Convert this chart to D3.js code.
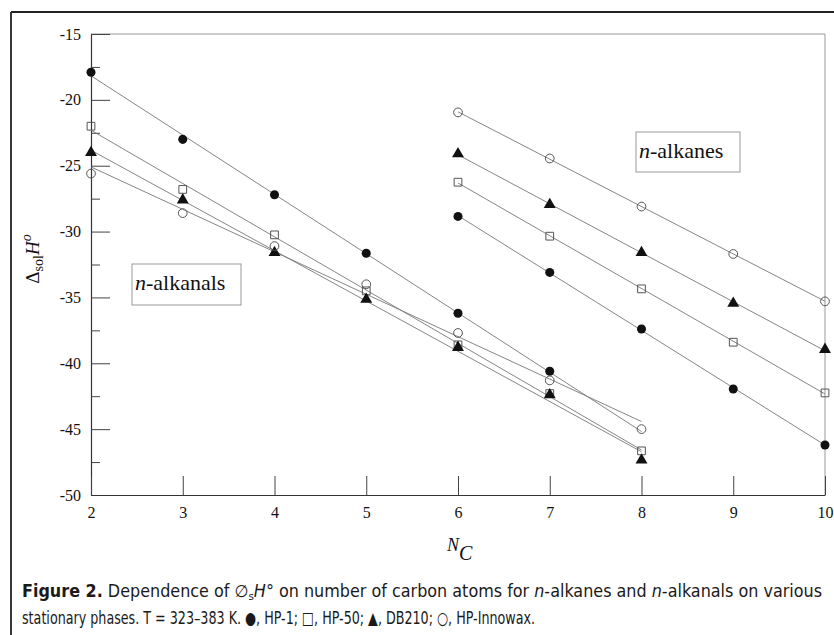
<!DOCTYPE html>
<html>
<head>
<meta charset="utf-8">
<script src="https://cdn.jsdelivr.net/npm/d3@7"></script>
<style>
  body { margin: 0; background: #fff; }
  svg { display: block; }
</style>
</head>
<body>
<script>
// carbon numbers
const alkanalCarbons = [2, 3, 4, 5, 6, 7, 8];
const alkaneCarbons = [6, 7, 8, 9, 10];

// n-alkanals, dsolH (kJ/mol)
const alkanalHP1 = [-17.9, -23.0, -27.2, -31.65, -36.2, -40.6, null];
const alkanalHP50 = [-22.0, -26.8, -30.25, -34.5, -38.6, -42.3, -46.65];
const alkanalDB210 = [-24.0, -27.6, -31.6, -35.15, -38.8, -42.4, -47.35];
const alkanalInnowax = [-25.6, -28.6, -31.1, -34.0, -37.7, -41.3, -45.0];

// n-alkanes
const alkaneHP1 = [-28.85, -33.1, -37.4, -41.95, -46.2];
const alkaneHP50 = [-26.25, -30.35, -34.35, -38.4, -42.25];
const alkaneDB210 = [-24.1, -27.95, -31.6, -35.45, -38.95];
const alkaneInnowax = [-20.95, -24.45, -28.1, -31.7, -35.3];

const xTicks = [2, 3, 4, 5, 6, 7, 8, 9, 10];
const yTicks = [-15, -20, -25, -30, -35, -40, -45, -50];
const yMinorTicks = [-17.5, -22.5, -27.5, -32.5, -37.5, -42.5, -47.5];

const W = 834, H = 635;
const svg = d3.select("body").append("svg").attr("width", W).attr("height", H);

// outer frame (left + top only visible)
svg.append("line").attr("x1", 11).attr("y1", 12).attr("x2", W).attr("y2", 12)
  .attr("stroke", "#222").attr("stroke-width", 1.8);
svg.append("line").attr("x1", 11).attr("y1", 12).attr("x2", 11).attr("y2", H)
  .attr("stroke", "#222").attr("stroke-width", 1.8);

const pLeft = 91, pRight = 825, pTop = 34, pBottom = 495;
const x = d3.scaleLinear().domain([2, 10]).range([pLeft, pRight]);
const y = d3.scaleLinear().domain([-50, -15]).range([pBottom, pTop]);

const serif = "'Liberation Serif', 'Times New Roman', serif";

// top and right frame of plot
svg.append("path")
  .attr("d", `M${pLeft},${pTop}H${pRight}V${pBottom}`)
  .attr("fill", "none").attr("stroke", "#999").attr("stroke-width", 1);

// axes
const gy = svg.append("g").attr("transform", `translate(${pLeft},0)`)
  .call(d3.axisLeft(y).tickValues(yTicks).tickSizeInner(-19).tickSizeOuter(0)
    .tickPadding(10).tickFormat(d => String(d)));
const yMinor = svg.append("g").attr("transform", `translate(${pLeft},0)`)
  .call(d3.axisLeft(y).tickValues(yMinorTicks).tickSizeInner(-9).tickSizeOuter(0)
    .tickFormat(""));
yMinor.select(".domain").remove();
const gx = svg.append("g").attr("transform", `translate(0,${pBottom})`)
  .call(d3.axisBottom(x).tickValues(xTicks).tickSizeInner(-19).tickSizeOuter(0)
    .tickPadding(12).tickFormat(d => String(d)));

[gx, gy].forEach(g => g.attr("font-family", serif).attr("font-size", 16));
svg.selectAll(".domain").attr("stroke", "#333").attr("stroke-width", 1.2);
svg.selectAll(".tick line").attr("stroke", "#444").attr("stroke-width", 1);
svg.selectAll(".tick text").style("font-family", serif).attr("fill", "#111");

// regression line for a series
function fit(xs, ys) {
  const pts = xs.map((c, i) => [c, ys[i]]).filter(p => p[1] != null);
  const mx = d3.mean(pts, p => p[0]), my = d3.mean(pts, p => p[1]);
  const b = d3.sum(pts, p => (p[0] - mx) * (p[1] - my)) / d3.sum(pts, p => (p[0] - mx) ** 2);
  return c => my + b * (c - mx);
}

const series = [
  { xs: alkanalCarbons, ys: alkanalHP1, mark: "dot" },
  { xs: alkanalCarbons, ys: alkanalHP50, mark: "square" },
  { xs: alkanalCarbons, ys: alkanalDB210, mark: "triangle" },
  { xs: alkanalCarbons, ys: alkanalInnowax, mark: "circle" },
  { xs: alkaneCarbons, ys: alkaneHP1, mark: "dot" },
  { xs: alkaneCarbons, ys: alkaneHP50, mark: "square" },
  { xs: alkaneCarbons, ys: alkaneDB210, mark: "triangle" },
  { xs: alkaneCarbons, ys: alkaneInnowax, mark: "circle" }
];

const plot = svg.append("g");
series.forEach(s => {
  const f = fit(s.xs, s.ys);
  const ends = d3.extent(s.xs);
  plot.append("line")
    .attr("x1", x(ends[0])).attr("y1", y(f(ends[0])))
    .attr("x2", x(ends[1])).attr("y2", y(f(ends[1])))
    .attr("stroke", "#777").attr("stroke-width", 0.9);
});

const sym = {
  dot: d3.symbol(d3.symbolCircle, 64),
  circle: d3.symbol(d3.symbolCircle, 60),
  square: d3.symbol(d3.symbolSquare, 60),
  triangle: d3.symbol(d3.symbolTriangle, 62)
};
series.forEach(s => {
  const pts = s.xs.map((c, i) => [c, s.ys[i]]).filter(p => p[1] != null);
  const filled = s.mark === "dot" || s.mark === "triangle";
  plot.selectAll(null).data(pts).enter().append("path")
    .attr("transform", d => `translate(${x(d[0])},${y(d[1])})`)
    .attr("d", sym[s.mark]())
    .attr("fill", filled ? "#111" : "none")
    .attr("stroke", filled ? "none" : "#555")
    .attr("stroke-width", 1);
});

// group labels
function groupLabel(x0, y0, w, h, txt) {
  svg.append("rect").attr("x", x0).attr("y", y0).attr("width", w).attr("height", h)
    .attr("fill", "#fff").attr("stroke", "#999").attr("stroke-width", 1);
  const t = svg.append("text").attr("x", x0 + 3).attr("y", y0 + 26)
    .attr("font-family", serif).attr("font-size", 22).attr("fill", "#111");
  t.append("tspan").attr("font-style", "italic").text("n");
  t.append("tspan").text(txt);
}
groupLabel(132, 264, 109, 41, "-alkanals");
groupLabel(636, 132, 104, 40, "-alkanes");

// y axis title
const yt = svg.append("text")
  .attr("transform", "translate(39,259) rotate(-90)")
  .attr("text-anchor", "middle")
  .attr("font-family", serif).attr("font-size", 19).attr("fill", "#111");
yt.append("tspan").text("Δ");
yt.append("tspan").attr("font-size", 14).attr("dy", 4).text("sol");
yt.append("tspan").attr("font-style", "italic").attr("dy", -4).text("H");
yt.append("tspan").attr("font-style", "italic").attr("font-size", 14).attr("dy", -8).text("o");

// x axis title
const xt = svg.append("text").attr("x", 447).attr("y", 551)
  .attr("font-family", serif).attr("font-style", "italic").attr("font-size", 18).attr("fill", "#111");
xt.append("tspan").text("N");
xt.append("tspan").attr("font-size", 20).attr("dy", 9).text("C");

// caption
const sans = "'DejaVu Sans Condensed', 'Liberation Sans Narrow', 'Open Sans', sans-serif";
const c1 = svg.append("text").attr("x", 22).attr("y", 597)
  .attr("font-family", sans).attr("font-size", 17).attr("fill", "#1a1a1a")
  .attr("textLength", 800).attr("lengthAdjust", "spacingAndGlyphs");
c1.append("tspan").attr("font-weight", "bold").text("Figure 2.");
c1.append("tspan").text(" Dependence of ∅");
c1.append("tspan").attr("font-size", 11).attr("dy", 3).text("s");
c1.append("tspan").attr("font-style", "italic").attr("dy", -3).text("H");
c1.append("tspan").text("° on number of carbon atoms for ");
c1.append("tspan").attr("font-style", "italic").text("n");
c1.append("tspan").text("-alkanes and ");
c1.append("tspan").attr("font-style", "italic").text("n");
c1.append("tspan").text("-alkanals on various");

svg.append("text").attr("x", 22).attr("y", 624)
  .attr("font-family", sans).attr("font-size", 17).attr("fill", "#1a1a1a")
  .attr("textLength", 513).attr("lengthAdjust", "spacingAndGlyphs")
  .text("stationary phases. T = 323–383 K. ●, HP-1; □, HP-50; ▲, DB210; ○, HP-Innowax.");
</script>
</body>
</html>
